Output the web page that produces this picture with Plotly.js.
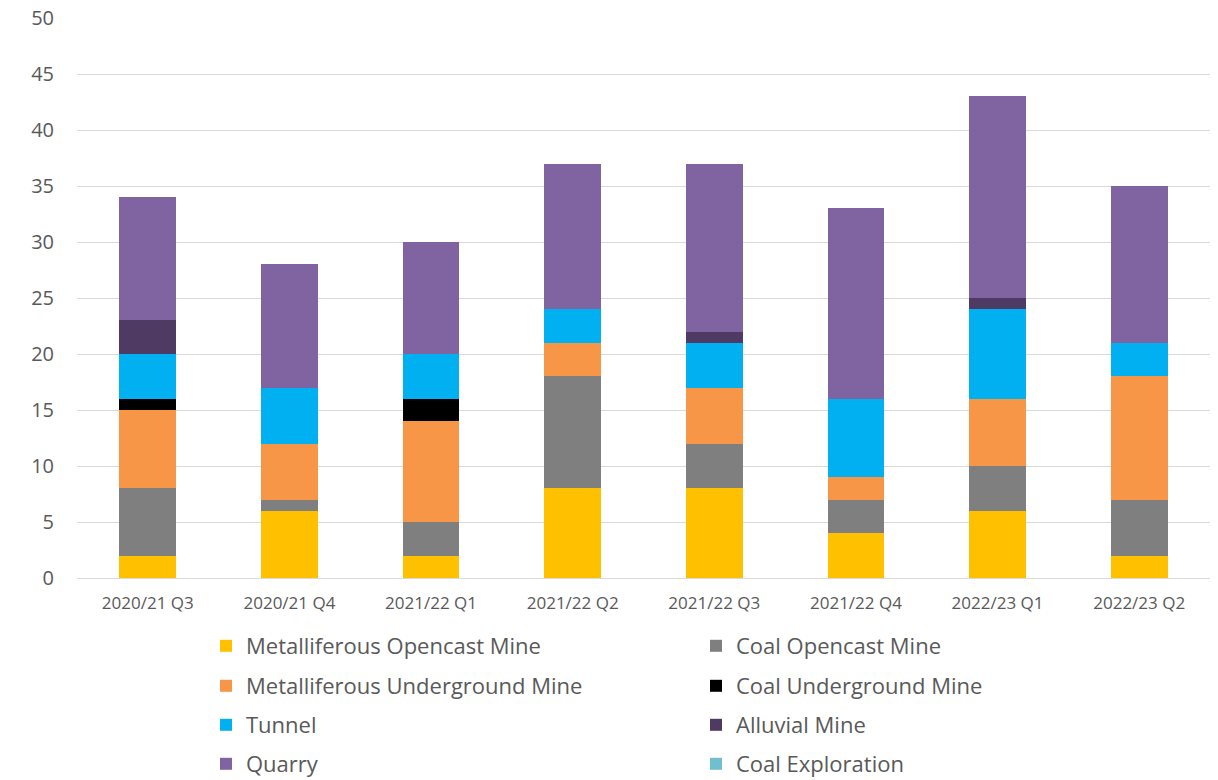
<!DOCTYPE html>
<html>
<head>
<meta charset="utf-8">
<script src="https://cdn.plot.ly/plotly-3.0.1.min.js"></script>
<style>html,body{margin:0;padding:0;background:#fff;}#chart{width:1218px;height:780px;}</style>
</head>
<body>
<div id="chart"></div>
<script>
const quarters = ["2020/21 Q3","2020/21 Q4","2021/22 Q1","2021/22 Q2","2021/22 Q3","2021/22 Q4","2022/23 Q1","2022/23 Q2"];
const metalliferousOpencast = [2, 6, 2, 8, 8, 4, 6, 2];
const coalOpencast          = [6, 1, 3, 10, 4, 3, 4, 5];
const metalliferousUnderground = [7, 5, 9, 3, 5, 2, 6, 11];
const coalUnderground       = [1, 0, 2, 0, 0, 0, 0, 0];
const tunnel                = [4, 5, 4, 3, 4, 7, 8, 3];
const alluvial              = [3, 0, 0, 0, 1, 0, 1, 0];
const quarry                = [11, 11, 10, 13, 15, 17, 18, 14];
const coalExploration       = [0, 0, 0, 0, 0, 0, 0, 0];

const seriesNames = ["Metalliferous Opencast Mine","Coal Opencast Mine","Metalliferous Underground Mine","Coal Underground Mine","Tunnel","Alluvial Mine","Quarry","Coal Exploration"];
const seriesValues = [metalliferousOpencast, coalOpencast, metalliferousUnderground, coalUnderground, tunnel, alluvial, quarry, coalExploration];
const colors = ["#FFC000","#7F7F7F","#F79646","#000000","#00B0F0","#4F3A63","#8064A2","#70BED0"];

const legendIds = seriesNames.map((n,i)=> i===0 ? "legend" : "legend"+(i+1));
const traces = seriesNames.map((n,i)=>({
  type:"bar", name:n, x:quarters, y:seriesValues[i],
  marker:{color:colors[i], line:{width:0}},
  legend: legendIds[i], hoverinfo:"name+y"
}));

const PL = 77, PW = 1133, PB = 578, PH = 560;
const legFont = {family:"'Open Sans', 'Liberation Sans', sans-serif", size:22, color:"#595959"};
const layout = {
  width:1218, height:780,
  margin:{l:PL, r:8, t:18, b:202, autoexpand:false},
  paper_bgcolor:"#fff", plot_bgcolor:"#fff",
  barmode:"stack", bargap:0.6,
  font:{family:"'Open Sans', 'Liberation Sans', sans-serif", color:"#595959"},
  showlegend:true,
  xaxis:{type:"category", showgrid:false, showline:true, linecolor:"#d9d9d9", linewidth:1,
    ticks:"", tickfont:{size:17, color:"#595959"}, ticklabelstandoff:10},
  yaxis:{range:[0,50], dtick:5, tick0:0, showgrid:true, gridcolor:"#d9d9d9", gridwidth:1,
    zeroline:true, zerolinecolor:"#d9d9d9", zerolinewidth:1, showline:false, ticks:"",
    tickfont:{size:20, color:"#595959"}, ticklabelstandoff:22}
};
const colLeft = [206, 696];
const rowMid = [646, 686, 725, 764];
seriesNames.forEach((n,i)=>{
  const col = i % 2, row = Math.floor(i/2);
  layout[legendIds[i]] = {
    orientation:"v", x:(colLeft[col]-PL)/PW, xanchor:"left",
    y:(PB-rowMid[row])/PH, yanchor:"middle",
    font:legFont, bgcolor:"rgba(0,0,0,0)", borderwidth:0
  };
});
Plotly.newPlot("chart", traces, layout, {displayModeBar:false, staticPlot:true});
</script>
</body>
</html>
